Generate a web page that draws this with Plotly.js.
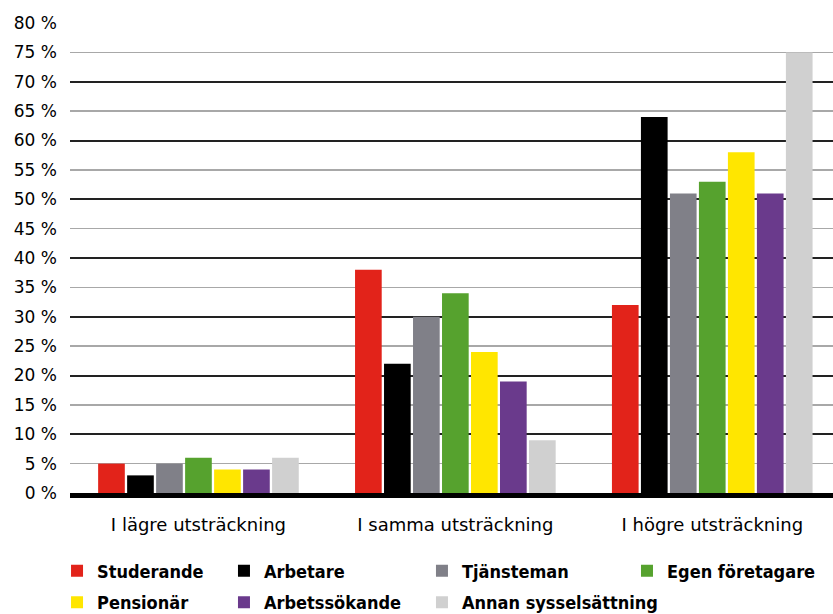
<!DOCTYPE html>
<html>
<head>
<meta charset="utf-8">
<script src="https://cdn.plot.ly/plotly-3.0.1.min.js"></script>
<style>html,body{margin:0;padding:0;background:#fff;}#chart{width:833px;height:614px;}</style>
</head>
<body>
<div id="chart"></div>
<script>
const categories = ["I lägre utsträckning", "I samma utsträckning", "I högre utsträckning"];
const seriesNames = ["Studerande", "Arbetare", "Tjänsteman", "Egen företagare", "Pensionär", "Arbetssökande", "Annan sysselsättning"];
const studerande = [5, 38, 32];
const arbetare = [3, 22, 64];
const tjansteman = [5, 30, 51];
const egenForetagare = [6, 34, 53];
const pensionar = [4, 24, 58];
const arbetssokande = [4, 19, 51];
const annan = [6, 9, 75];
const tickValues = [0, 5, 10, 15, 20, 25, 30, 35, 40, 45, 50, 55, 60, 65, 70, 75, 80];
const tickLabels = tickValues.map(v => v + " %");

const seriesValues = [studerande, arbetare, tjansteman, egenForetagare, pensionar, arbetssokande, annan];
const colors = ["#e2231a", "#000000", "#808088", "#56a22e", "#ffe600", "#6a3a8c", "#d0d0d0"];
const legendIds = ["legend", "legend2", "legend3", "legend4", "legend", "legend2", "legend3"];

const FONT = "'DejaVu Sans', sans-serif";
const LFONT = "'DejaVu Sans Condensed', 'DejaVu Sans', sans-serif";

const traces = seriesNames.map((n, i) => ({
  type: "bar",
  name: n,
  x: categories,
  y: seriesValues[i],
  marker: {color: colors[i], line: {width: 0}},
  legend: legendIds[i],
  legendgroup: "g" + i,
  hoverinfo: "none"
}));
// overlay trace for major gridlines
traces.push({type: "scatter", x: [categories[0]], y: [0], yaxis: "y2", showlegend: false, mode: "markers", marker: {opacity: 0}, hoverinfo: "none"});

const legendBase = {
  orientation: "v", yref: "container", yanchor: "top", y: 0.1, xanchor: "left",
  font: {family: LFONT, size: 18, color: "#000", weight: "bold"},
  bgcolor: "rgba(0,0,0,0)", tracegroupgap: 5, itemwidth: 30,
  traceorder: "grouped"
};

const layout = {
  width: 833, height: 614,
  margin: {l: 70, r: 0, t: 23, b: 121},
  paper_bgcolor: "#fff", plot_bgcolor: "#fff",
  font: {family: FONT, size: 17, color: "#000"},
  barmode: "group",
  bargap: 0.21,
  bargroupgap: 0.08,
  xaxis: {
    type: "category",
    range: [-0.5, 2.47],
    showgrid: false,
    showline: true,
    linecolor: "#000",
    linewidth: 5,
    layer: "above traces",
    ticks: "",
    ticklabelstandoff: 11,
    tickfont: {family: FONT, size: 18, color: "#000"},
    fixedrange: true
  },
  yaxis: {
    range: [0, 80],
    tickvals: tickValues,
    ticktext: tickLabels,
    showgrid: true,
    gridcolor: "#a8a8a8",
    gridwidth: 1.5,
    zeroline: false,
    showline: false,
    ticks: "",
    ticklabelstandoff: 12,
    tickfont: {family: FONT, size: 17, color: "#000"}
  },
  yaxis2: {
    overlaying: "y",
    range: [0, 80],
    dtick: 10,
    showgrid: true,
    gridcolor: "#222",
    gridwidth: 2,
    showticklabels: false,
    zeroline: false,
    layer: "below traces"
  },
  legend: Object.assign({}, legendBase, {x: -0.017}),
  legend2: Object.assign({}, legendBase, {x: 0.2018}),
  legend3: Object.assign({}, legendBase, {x: 0.4613}),
  legend4: Object.assign({}, legendBase, {x: 0.730}),
  showlegend: true
};

Plotly.newPlot("chart", traces, layout, {displayModeBar: false, staticPlot: true});
</script>
</body>
</html>
